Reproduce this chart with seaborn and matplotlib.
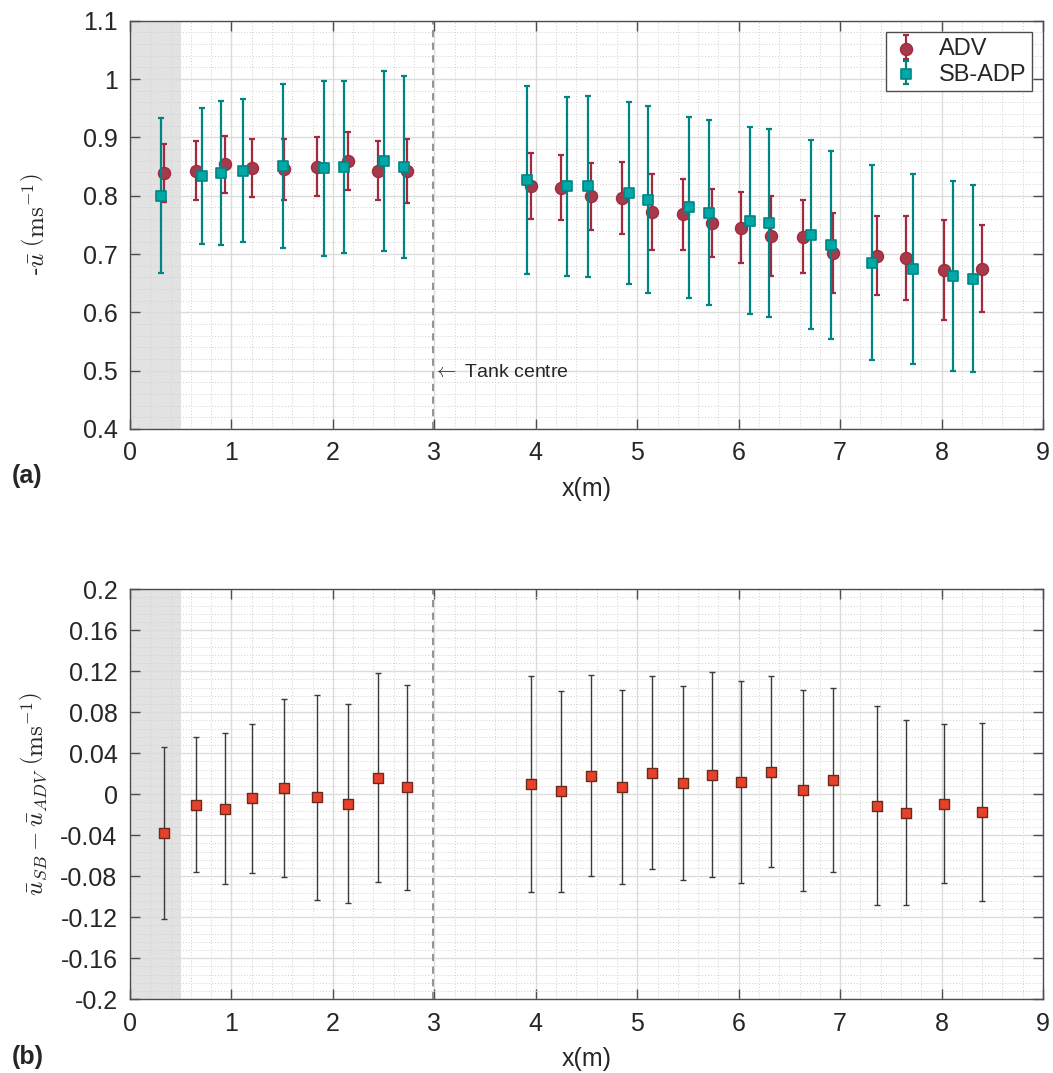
import numpy as np
import pandas as pd
import seaborn as sns
import matplotlib.pyplot as plt
from matplotlib.ticker import MultipleLocator
from matplotlib.legend_handler import HandlerTuple

# ADV (red circles)
adv_x = [0.33, 0.65, 0.94, 1.20, 1.52, 1.84, 2.15, 2.44, 2.73,
         3.95, 4.25, 4.54, 4.85, 5.15, 5.45, 5.74, 6.02, 6.32, 6.63, 6.93, 7.36, 7.65, 8.02, 8.40]
adv_u = [0.839, 0.843, 0.854, 0.847, 0.845, 0.850, 0.859, 0.843, 0.842,
         0.817, 0.814, 0.799, 0.796, 0.772, 0.768, 0.753, 0.745, 0.731, 0.730, 0.702, 0.697, 0.693, 0.673, 0.675]
adv_err = [0.049, 0.050, 0.049, 0.050, 0.052, 0.051, 0.050, 0.051, 0.055,
           0.057, 0.055, 0.057, 0.061, 0.065, 0.061, 0.058, 0.061, 0.068, 0.063, 0.069, 0.068, 0.072, 0.086, 0.074]

# SB-ADP (teal squares)
sb_x = [0.31, 0.71, 0.90, 1.11, 1.51, 1.91, 2.11, 2.50, 2.70,
        3.91, 4.31, 4.51, 4.92, 5.11, 5.51, 5.71, 6.11, 6.30, 6.71, 6.91, 7.31, 7.72, 8.11, 8.31]
sb_u = [0.800, 0.834, 0.839, 0.843, 0.851, 0.847, 0.849, 0.860, 0.850,
        0.827, 0.816, 0.816, 0.804, 0.793, 0.780, 0.771, 0.757, 0.753, 0.733, 0.716, 0.685, 0.675, 0.663, 0.658]
sb_err = [0.133, 0.116, 0.124, 0.123, 0.140, 0.150, 0.148, 0.154, 0.156,
          0.161, 0.153, 0.155, 0.156, 0.160, 0.155, 0.159, 0.160, 0.161, 0.162, 0.161, 0.167, 0.163, 0.163, 0.160]

# difference SB - ADV
diff_x = adv_x
diff_u = [-0.038, -0.010, -0.014, -0.004, 0.006, -0.003, -0.009, 0.016, 0.007,
          0.010, 0.003, 0.018, 0.007, 0.021, 0.011, 0.019, 0.012, 0.022, 0.004, 0.014, -0.011, -0.018, -0.009, -0.017]
diff_err = [0.084, 0.066, 0.074, 0.073, 0.087, 0.100, 0.097, 0.102, 0.100,
            0.105, 0.098, 0.098, 0.095, 0.094, 0.095, 0.100, 0.099, 0.093, 0.098, 0.090, 0.097, 0.090, 0.078, 0.087]

top_yticks = [0.4, 0.5, 0.6, 0.7, 0.8, 0.9, 1.0, 1.1]
top_ylabels = ["0.4", "0.5", "0.6", "0.7", "0.8", "0.9", "1", "1.1"]
bot_yticks = [-0.2, -0.16, -0.12, -0.08, -0.04, 0, 0.04, 0.08, 0.12, 0.16, 0.2]
bot_ylabels = ["-0.2", "-0.16", "-0.12", "-0.08", "-0.04", "0", "0.04", "0.08", "0.12", "0.16", "0.2"]

sns.set_style("ticks")
plt.rcParams["font.family"] = ["Liberation Sans", "DejaVu Sans"]
plt.rcParams["mathtext.fontset"] = "cm"
plt.rcParams["axes.unicode_minus"] = False

red = "#a3293f"
teal = "#008585"
teal_face = "#00a8a8"
frame = "#4d4d4d"

fig = plt.figure(figsize=(10.53, 10.73), dpi=100)
ax1 = fig.add_axes([0.1235, 0.6002, 0.867, 0.3805])
ax2 = fig.add_axes([0.1235, 0.0687, 0.867, 0.3821])


def style_axes(ax, ylim, yticks, ylabels, yminor):
    ax.set_xlim(0, 9)
    ax.set_ylim(*ylim)
    ax.set_xticks(range(10))
    ax.set_yticks(yticks)
    ax.set_yticklabels(ylabels)
    ax.xaxis.set_minor_locator(MultipleLocator(0.2))
    ax.yaxis.set_minor_locator(MultipleLocator(yminor))
    ax.grid(which="major", color="#dcdcdc", lw=1.0, ls="-")
    ax.grid(which="minor", color="#cfcfcf", lw=0.7, ls=(0, (1, 2)))
    ax.set_axisbelow(True)
    ax.tick_params(which="major", direction="in", length=7, width=1, color=frame,
                   top=True, right=True, labelsize=18, pad=9)
    ax.tick_params(which="minor", length=0)
    for s in ax.spines.values():
        s.set_color(frame)
        s.set_linewidth(1.0)
    ax.axvspan(0, 0.5, color="#e2e2e2", zorder=0.5, lw=0)
    ax.axvline(2.99, color="#8a8a8a", ls=(0, (4, 3)), lw=1.3, zorder=1)
    ax.set_xlabel("x(m)", fontsize=18, labelpad=8)


style_axes(ax1, (0.4, 1.1), top_yticks, top_ylabels, 0.02)
style_axes(ax2, (-0.2, 0.2), bot_yticks, bot_ylabels, 0.008)

# top panel
df_adv = pd.DataFrame({"x": adv_x, "u": adv_u})
df_sb = pd.DataFrame({"x": sb_x, "u": sb_u})

eb_adv = ax1.errorbar(adv_x, adv_u, yerr=adv_err, fmt="none", ecolor=red, elinewidth=1.6,
                      capsize=2.5, capthick=1.6, zorder=3)
n = len(ax1.collections)
sns.scatterplot(data=df_adv, x="x", y="u", ax=ax1, marker="o", s=75,
                color="#a63a4a", edgecolor=red, linewidth=1.0, zorder=4)
h_adv = ax1.collections[n]

eb_sb = ax1.errorbar(sb_x, sb_u, yerr=sb_err, fmt="none", ecolor=teal, elinewidth=1.6,
                     capsize=2.5, capthick=1.6, zorder=5)
n = len(ax1.collections)
sns.scatterplot(data=df_sb, x="x", y="u", ax=ax1, marker="s", s=45,
                color=teal_face, edgecolor=teal, linewidth=1.2, zorder=6)
h_sb = ax1.collections[n]

ax1.set_ylabel(r"-$\bar{u}\ \left(\mathrm{ms^{-1}}\right)$", fontsize=18, labelpad=24)
ax1.text(2.985, 0.497, r"$\leftarrow$ Tank centre", fontsize=14, va="center", ha="left")

leg = ax1.legend([(eb_adv, h_adv), (eb_sb, h_sb)], ["ADV", "SB-ADP"],
                 handler_map={tuple: HandlerTuple(ndivide=1)},
                 loc="upper right", bbox_to_anchor=(0.988, 0.972), borderaxespad=0,
                 fontsize=17, frameon=True, fancybox=False, framealpha=1,
                 edgecolor=frame, handlelength=1.2, handletextpad=0.8,
                 borderpad=0.25, labelspacing=0.15, scatterpoints=1)
leg.get_frame().set_linewidth(1.0)

# bottom panel
df_diff = pd.DataFrame({"x": diff_x, "d": diff_u})
ax2.errorbar(diff_x, diff_u, yerr=diff_err, fmt="none", ecolor="#3a3a3a", elinewidth=1.0,
             capsize=2.5, capthick=1.0, zorder=3)
sns.scatterplot(data=df_diff, x="x", y="d", ax=ax2, marker="s", s=55,
                color="#e8412a", edgecolor="#6b2a1e", linewidth=1.0, zorder=4)
ax2.set_ylabel(r"$\bar{u}_{SB} - \bar{u}_{ADV}\ \left(\mathrm{ms^{-1}}\right)$",
               fontsize=18, labelpad=8)

fig.text(12 / 1053, 1 - 476 / 1073, "(a)", fontsize=18, fontweight="bold", va="center")
fig.text(12 / 1053, 1 - 1057 / 1073, "(b)", fontsize=18, fontweight="bold", va="center")

fig.savefig("out.png", dpi=100)
